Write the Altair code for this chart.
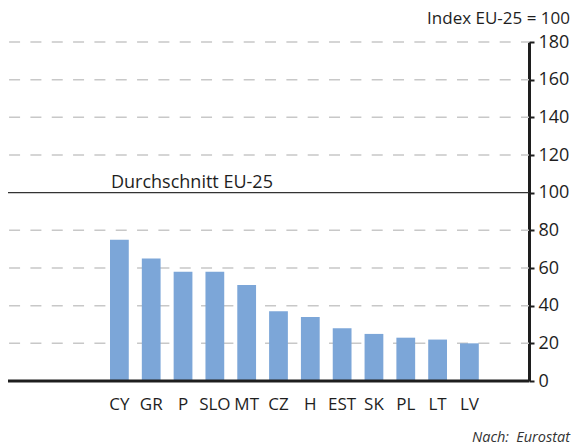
import altair as alt
import pandas as pd

countries = ["CY", "GR", "P", "SLO", "MT", "CZ", "H", "EST", "SK", "PL", "LT", "LV"]
values = [75, 65, 58, 58, 51, 37, 34, 28, 25, 23, 22, 20]
y_ticks = [0, 20, 40, 60, 80, 100, 120, 140, 160, 180]
grid_values = [20, 40, 60, 80, 120, 140, 160, 180]
avg_value = 100
avg_label = "Durchschnitt EU-25"
unit_label = "Index EU-25 = 100"
source_label = "Nach:\u2002Eurostat"

W, H = 521, 339
FONT = "Open Sans"
TXT = "#1e1e1e"

df = pd.DataFrame({"land": countries, "wert": values})

xscale = alt.Scale(domain=countries, paddingInner=0.41, paddingOuter=0, range=[102, 470.8])
yscale = alt.Scale(domain=[0, 180], nice=False)

xaxis = alt.Axis(labelAngle=0, ticks=False, domain=False, title=None,
                 labelFontSize=17, labelColor=TXT,
                 labelPadding=15, grid=False, labelFont=FONT)
yaxis = alt.Axis(orient="right", values=y_ticks, domainColor="#1e1e1e", domainWidth=3,
                 tickColor="#1e1e1e", tickWidth=2, tickSize=5, labelOverlap=False,
                 labelFontSize=18, labelColor=TXT, labelPadding=4, labelFont=FONT,
                 grid=False, title=None)

grid = alt.Chart(pd.DataFrame({"wert": grid_values})).mark_rule(
    color="#c8c8c8", strokeWidth=1.5, strokeDash=[11, 10.33], strokeDashOffset=3
).encode(y=alt.Y("wert:Q", scale=yscale, axis=yaxis))

bars = alt.Chart(df).mark_bar(color="#7ca6d8").encode(
    x=alt.X("land:N", scale=xscale, sort=countries, axis=xaxis),
    y=alt.Y("wert:Q", scale=yscale, axis=yaxis),
)

base_df = pd.DataFrame({"wert": [0]})
base_rule = alt.Chart(base_df).mark_rule(color="#1e1e1e", strokeWidth=3).encode(
    y=alt.Y("wert:Q", scale=yscale, axis=yaxis)
)

avg_df = pd.DataFrame({"wert": [avg_value], "land": [countries[0]], "label": [avg_label]})
rule = alt.Chart(avg_df).mark_rule(color="#333333", strokeWidth=1.4).encode(
    y=alt.Y("wert:Q", scale=yscale, axis=yaxis)
)
avg_text = alt.Chart(avg_df).mark_text(align="left", baseline="alphabetic", dx=1, dy=-5,
                                       fontSize=18, font=FONT, color=TXT).encode(
    x=alt.X("land:N", scale=xscale, sort=countries, bandPosition=0, axis=xaxis),
    y=alt.Y("wert:Q", scale=yscale, axis=yaxis),
    text="label:N",
)

unit_df = pd.DataFrame({"t": [unit_label]})
unit_text = alt.Chart(unit_df).mark_text(align="right", baseline="alphabetic", fontSize=17,
                                         font=FONT, color=TXT).encode(
    x=alt.value(562), y=alt.value(-18), text="t:N"
)
src_df = pd.DataFrame({"t": [source_label]})
src_text = alt.Chart(src_df).mark_text(align="right", baseline="alphabetic", fontSize=14.5,
                                       fontStyle="italic", font=FONT, color="#333333").encode(
    x=alt.value(562), y=alt.value(400), text="t:N"
)

chart = alt.layer(grid, bars, base_rule, rule, avg_text, unit_text, src_text).properties(
    width=W, height=H,
    autosize="none",
    padding={"left": 0, "top": 34, "right": 42, "bottom": 66},
).configure(font=FONT).configure_view(stroke=None)

chart.save("out.html", embed_options={"renderer": "svg", "actions": False})
